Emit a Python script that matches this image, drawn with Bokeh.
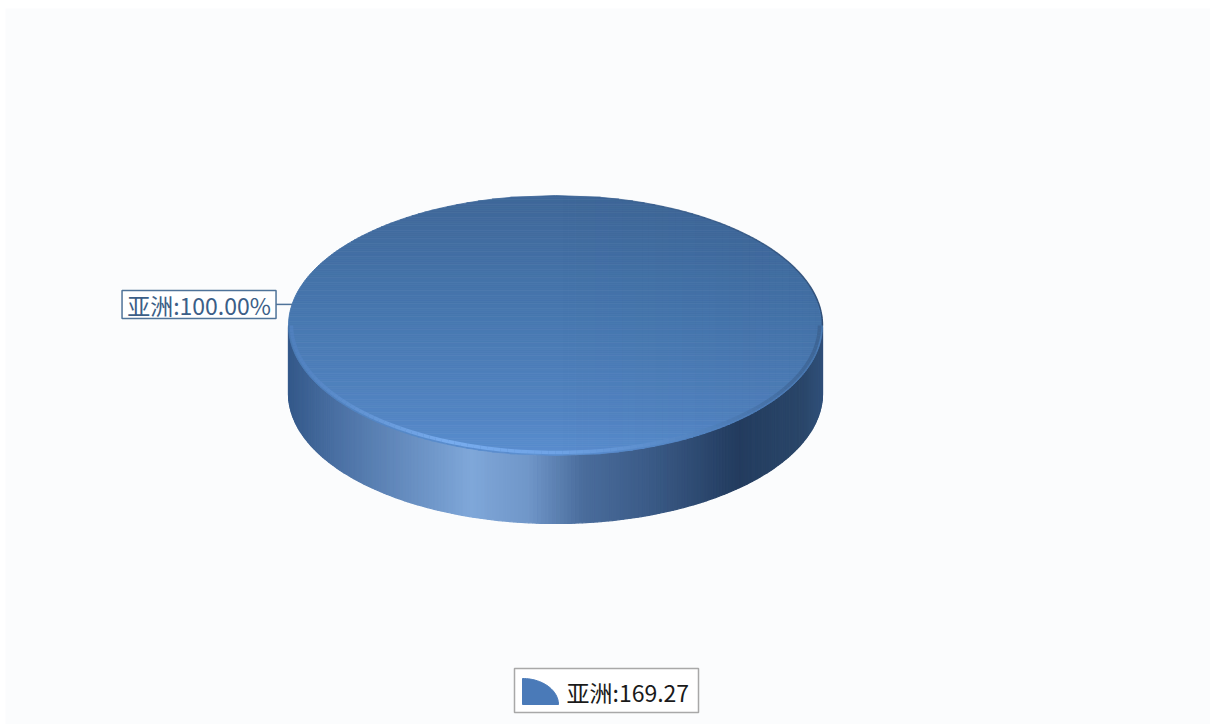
import numpy as np
from bokeh.plotting import figure
from bokeh.models import Range1d, ColumnDataSource
from bokeh.embed import file_html
from bokeh.resources import INLINE
from bokeh.core.properties import value

# ---------------- data ----------------
categories = ["亚洲"]
values = [169.27]

# ---------------- style / layout ----------------
W, H = 1210, 724
FONT = "Noto Sans CJK SC"
CX, CY, A, B, DEPTH = 555.0, 325.0, 267.0, 130.0, 68.0
START = 0.163  # radians, screen coords (y down)

SIDE_STOPS = [(0.0, "#34598a"), (0.10, "#4d73a6"), (0.34, "#7fa7d9"),
              (0.45, "#6f96c8"), (0.55, "#4a6c9c"), (0.68, "#3a5a86"),
              (0.84, "#233c5f"), (0.96, "#2a4669"), (1.0, "#30507a")]
TOP_STOPS = [(0.0, "#3f6798"), (0.45, "#4777af"), (0.85, "#5385c3"), (1.0, "#5a8ecf")]
RIM_STOPS = [(0.0, "#4f7fbd"), (0.30, "#78acee"), (0.50, "#6fa3e6"),
             (0.80, "#4f7fba"), (1.0, "#3d6494")]


def hex2rgb(h):
    return [int(h[i:i + 2], 16) for i in (1, 3, 5)]


def interp(stops, t):
    fs = [s[0] for s in stops]
    cs = [hex2rgb(s[1]) for s in stops]
    rgb = [np.interp(t, fs, [c[k] for c in cs]) for k in range(3)]
    return "#%02x%02x%02x" % tuple(int(round(v)) for v in rgb)


p = figure(width=W, height=H, output_backend="svg", toolbar_location=None,
           x_range=Range1d(5, W), y_range=Range1d(H, 8),
           x_axis_location=None, y_axis_location=None,
           min_border_left=5, min_border_top=8, min_border_right=0, min_border_bottom=0)
p.grid.visible = False
p.outline_line_color = None
p.background_fill_color = "#fbfcfd"
p.border_fill_color = "#ffffff"

total = float(sum(values))
fracs = [v / total for v in values]

# ---------------- side (front half), vertical strips ----------------
N = 220
th = np.linspace(0, np.pi, N + 1)
sx, sy, sc = [], [], []
for i in range(N):
    t0, t1 = th[i], th[i + 1]
    x0, x1 = CX + A * np.cos(t0), CX + A * np.cos(t1)
    y0, y1 = CY + B * np.sin(t0), CY + B * np.sin(t1)
    sx.append([x0, x1, x1, x0])
    sy.append([y0, y1, y1 + DEPTH, y0 + DEPTH])
    xm = (x0 + x1) / 2
    sc.append(interp(SIDE_STOPS, (xm - (CX - A)) / (2 * A)))
p.patches(xs="xs", ys="ys", fill_color="c", line_color="c", line_width=1.2,
          source=ColumnDataSource(dict(xs=sx, ys=sy, c=sc)))

# ---------------- top face, horizontal bands ----------------
M = 140
yy = np.linspace(CY - B, CY + B, M + 1)
tx, ty, tc = [], [], []
for i in range(M):
    y0, y1 = yy[i], yy[i + 1]
    w0 = A * np.sqrt(max(0.0, 1 - ((y0 - CY) / B) ** 2))
    w1 = A * np.sqrt(max(0.0, 1 - ((y1 - CY) / B) ** 2))
    tx.append([CX - w0, CX + w0, CX + w1, CX - w1])
    ty.append([y0, y0, y1, y1])
    tc.append(interp(TOP_STOPS, ((y0 + y1) / 2 - (CY - B)) / (2 * B)))
p.patches(xs="xs", ys="ys", fill_color="c", line_color="c", line_width=0.8,
          source=ColumnDataSource(dict(xs=tx, ys=ty, c=tc)))

# slight darkening toward the right of the top face
K = 40
xx = np.linspace(CX, CX + A, K + 1)
dx, dy, da = [], [], []
for i in range(K):
    x0, x1 = xx[i], xx[i + 1]
    h0 = B * np.sqrt(max(0.0, 1 - ((x0 - CX) / A) ** 2))
    h1 = B * np.sqrt(max(0.0, 1 - ((x1 - CX) / A) ** 2))
    dx.append([x0, x1, x1, x0])
    dy.append([CY - h0, CY - h1, CY + h1, CY + h0])
    da.append(0.07 * (i + 0.5) / K)
p.patches(xs="xs", ys="ys", fill_color="#0a1a30", fill_alpha="a", line_color=None,
          source=ColumnDataSource(dict(xs=dx, ys=dy, a=da)))

# rim highlight / bevel along the front edge of the top face
R = 120
rt = np.linspace(0.0, np.pi, R + 1)
rx, ry, rc = [], [], []
for i in range(R):
    t0, t1 = rt[i], rt[i + 1]
    xa, xb = CX + (A - 3) * np.cos(t0), CX + (A - 3) * np.cos(t1)
    ya, yb = CY + (B - 3) * np.sin(t0), CY + (B - 3) * np.sin(t1)
    rx.append([xa, xb])
    ry.append([ya, yb])
    rc.append(interp(RIM_STOPS, ((xa + xb) / 2 - (CX - A)) / (2 * A)))
p.multi_line(xs="xs", ys="ys", line_color="c", line_width=3.5,
             source=ColumnDataSource(dict(xs=rx, ys=ry, c=rc)))

# thin dark edge on the upper-right of the top face
ot = np.linspace(-0.5 * np.pi, 0.0, 60)
ox, oy, oa = [], [], []
for i in range(len(ot) - 1):
    t0, t1 = ot[i], ot[i + 1]
    ox.append([CX + A * np.cos(t0), CX + A * np.cos(t1)])
    oy.append([CY + B * np.sin(t0), CY + B * np.sin(t1)])
    oa.append(0.9 * (i + 0.5) / (len(ot) - 1))
p.multi_line(xs="xs", ys="ys", line_color="#2a466c", line_alpha="a", line_width=1.5,
             source=ColumnDataSource(dict(xs=ox, ys=oy, a=oa)))

# ---------------- slice labels ----------------
cum = 0.0
for cat, f in zip(categories, fracs):
    mid = START + 2 * np.pi * (cum + f / 2)
    cum += f
    ax, ay = CX + A * np.cos(mid), CY + B * np.sin(mid)
    box_r = ax - 16
    box_w, box_h = 154, 28
    p.line([ax, box_r], [ay, ay], line_color="#4f7399", line_width=1.5)
    p.quad(left=[box_r - box_w], right=[box_r], top=[ay - box_h / 2], bottom=[ay + box_h / 2],
           fill_color="white", line_color="#4f7399", line_width=1.5)
    p.text(x=[box_r - box_w / 2], y=[ay + 1], text=[f"{cat}:{f * 100:.2f}%"],
           text_align="center", text_baseline="middle", text_font=value(FONT),
           text_font_size="23px", text_color="#3b5e87")

# ---------------- legend ----------------
LX, LY, LW, LH = 514, 668, 184, 44
p.quad(left=[LX], right=[LX + LW], top=[LY], bottom=[LY + LH],
       fill_color="white", line_color="#a8a8a8", line_width=1.5)
for i, (cat, v) in enumerate(zip(categories, values)):
    ix, iy = LX + 8, LY + 36
    ph = np.linspace(0, np.pi / 2, 30)
    px = [ix] + list(ix + 36 * np.cos(ph))
    py = [iy] + list(iy - 26 * np.sin(ph))
    p.patch(px, py, fill_color="#4a7ab8", line_color="#4a7ab8", line_width=1)
    p.text(x=[LX + 52], y=[LY + LH / 2 + 1], text=[f"{cat}:{v:.2f}"],
           text_align="left", text_baseline="middle", text_font=value(FONT),
           text_font_size="23px", text_color="#1a1a1a")

open("out.html", "w").write(file_html(p, INLINE))
